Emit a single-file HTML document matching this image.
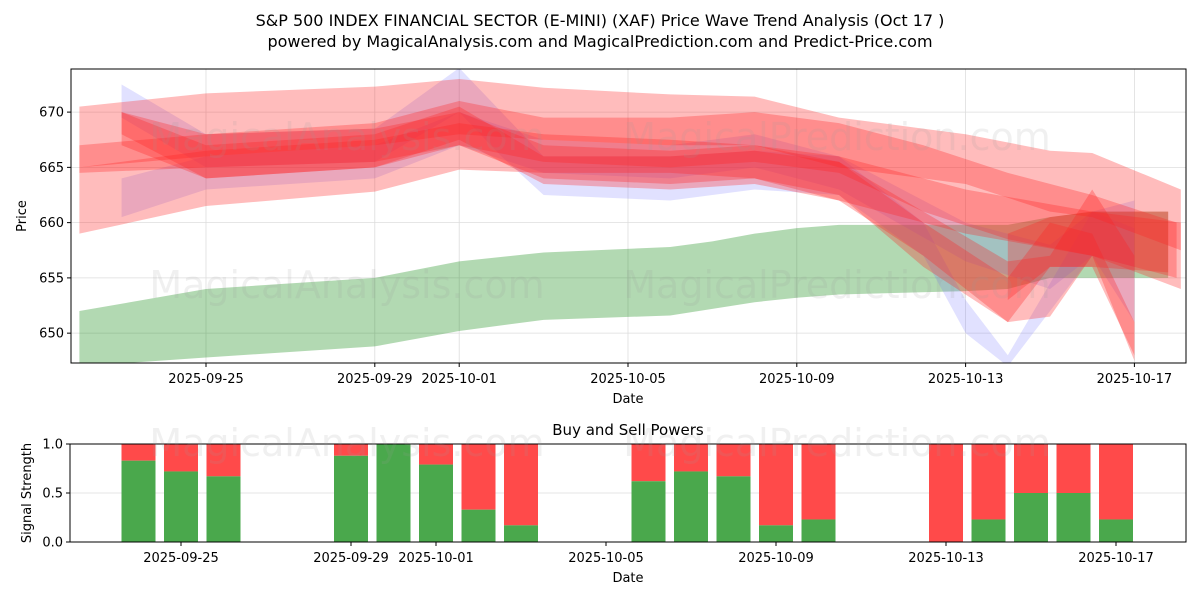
<!DOCTYPE html>
<html><head><meta charset="utf-8"><style>
html,body{margin:0;padding:0;background:#fff;}
svg{display:block;font-family:"DejaVu Sans","Liberation Sans",sans-serif;}
</style></head><body>
<svg id="c" width="1200" height="600" viewBox="0 0 1200 600">
<rect width="1200" height="600" fill="#fff"/>
<text x="600" y="26" text-anchor="middle" font-size="16" fill="#000">S&amp;P 500 INDEX FINANCIAL SECTOR (E-MINI) (XAF) Price Wave Trend Analysis (Oct 17 )</text>
<text x="600" y="47" text-anchor="middle" font-size="16" fill="#000">powered by MagicalAnalysis.com and MagicalPrediction.com and Predict-Price.com</text>
<g id="topg"></g>
<g id="botg"></g>
</svg>
<script>
const tickDays=[3,7,9,13,17,21,25];
const tickLabels=["2025-09-25","2025-09-29","2025-10-01","2025-10-05","2025-10-09","2025-10-13","2025-10-17"];
const priceTicks=[650,655,660,665,670];
const greenDays=[0,3,7,9,11,14,15,16,17,18,21,22,23,24,25.8];
const greenUpper=[652,654,655,656.5,657.3,657.8,658.3,659,659.5,659.8,659.8,659.8,660.5,661,661];
const greenLower=[647,647.8,648.8,650.2,651.2,651.6,652.2,652.8,653.2,653.5,653.8,654,655,655,655];
const redBands=[
 {days:[0,3,7,9,11,14,16,18,21,23,24,26.1],up:[670.5,671.7,672.3,673,672.2,671.6,671.4,669.5,668,666.5,666.3,663],lo:[665,666,667,668,667.5,667,667,665,663.5,661,660.5,657.5]},
 {days:[0,3,7,9,11,14,16,18,21,24,26.1],up:[665,666.5,667.5,669,668,667.5,667,666,663,661,660],lo:[659,661.5,662.8,664.8,664.5,664.5,664,662,659,657,654]},
 {days:[0,3,7,9,11,14,16,18,20,22,24,26],up:[667,668,669,671,669.5,669.5,670,669,667,664.5,662.5,660],lo:[664.5,665,665.5,667,665.5,665,665.5,664.5,661,658.5,657,655]},
 {days:[1,3,7,9,11,14,16,18,20,22,23,24,25],up:[670,667,668,670.5,666,666,666.5,665.5,661,656.5,657,663,657],lo:[667,664,665,667.5,663.5,663,663.5,662,657,651,651.5,657,647.5]},
 {days:[1,3,7,9,11,14,16,18,20,22,23,24,25],up:[670,668,668.5,670,667,666.5,667,665.5,660,655,660,659,651],lo:[668,664,665,667,664,663.5,664,662.5,656,651,656,656,648]},
 {days:[22,23,24,25.8],up:[659,660.5,661,661],lo:[653,656,656,655.5]}
];
const blueBands=[
 {days:[1,3,7,9,10,11,14,16,18,20,21,22,24,25],up:[672.5,668,668.5,674,670,666,666,666.5,666,660,653,648,661,662],lo:[669.5,665,665.5,670,666,662.5,662,663,662.5,657,650,647,657,651]},
 {days:[1,3,7,9,11,14,16,18,21,23,24,25],up:[664,666,667,670,667.5,667,668,666,660,658,661,659.5],lo:[660.5,663,664,667,664.5,664,665,663,656.5,654,657,656]}
];
const barDays=[2,3,4,7,8,9,10,11,14,15,16,17,18,21,22,23,24,25];
const buyPower=[0.83,0.72,0.67,0.88,1.0,0.79,0.33,0.17,0.62,0.72,0.67,0.17,0.23,0,0.23,0.5,0.5,0.23];
const powerTicks=[0,0.5,1];

{
const NS="http://www.w3.org/2000/svg";
function mk(p,t,a){const e=document.createElementNS(NS,t);for(const k in a)e.setAttribute(k,a[k]);p.appendChild(e);return e;}
const T={l:71,r:1186,t:69,b:363};
const tx=d=>79.4+d*42.2;
const ty=v=>363-(v-647.3)*(294/26.6);
const B={l:70,r:1186,t:444,b:542};
const bx=d=>53.5+d*42.5;
const by=v=>542-v*98;
const topG=document.getElementById('topg'),botG=document.getElementById('botg');
const svgEl=document.getElementById('c');

tickDays.forEach((d,i)=>{const x=tx(d);
 const g=mk(topG,'line',{x1:x,x2:x,y1:T.t,y2:T.b,stroke:'#ddd','stroke-width':0.8});
 
 
 mk(topG,'line',{x1:x,x2:x,y1:T.b,y2:T.b+4,stroke:'#000'});
 const t=mk(topG,'text',{x:x,y:T.b+20,'text-anchor':'middle','font-size':13});t.textContent=tickLabels[i];
 
 });
priceTicks.forEach(v=>{const y=ty(v);
 const g=mk(topG,'line',{x1:T.l,x2:T.r,y1:y,y2:y,stroke:'#ddd','stroke-width':0.8});
 
 
 mk(topG,'line',{x1:T.l-4,x2:T.l,y1:y,y2:y,stroke:'#000'});
 const t=mk(topG,'text',{x:T.l-7,y:y+4.5,'text-anchor':'end','font-size':13});t.textContent=v;
 
 });
[[347,150,'MagicalAnalysis.com'],[837,150,'MagicalPrediction.com'],[347,298,'MagicalAnalysis.com'],[837,298,'MagicalPrediction.com'],[347,456,'MagicalAnalysis.com'],[837,456,'MagicalPrediction.com']].forEach(w=>{
 const t=mk(svgEl,'text',{x:w[0],y:w[1],'text-anchor':'middle','font-size':38,fill:'#999','fill-opacity':0.15});t.textContent=w[2];
 
 });
const clip=mk(topG,'clipPath',{id:'tc'});mk(clip,'rect',{x:T.l,y:T.t,width:T.r-T.l,height:T.b-T.t});
const plot=mk(topG,'g',{'clip-path':'url(#tc)'});
function band(days,up,lo,fill,op,name){
 let pts=days.map((d,i)=>tx(d)+','+ty(up[i]));
 for(let i=days.length-1;i>=0;i--)pts.push(tx(days[i])+','+ty(lo[i]));
 const p=mk(plot,'polygon',{points:pts.join(' '),fill:fill,'fill-opacity':op});
 
 }
band(greenDays,greenUpper,greenLower,'#008000',0.3,'green-band');
blueBands.forEach(b=>band(b.days,b.up,b.lo,'#6a6aff',0.2,'blue-wave-band'));
redBands.forEach(b=>band(b.days,b.up,b.lo,'#ff2020',0.3,'red-wave-band'));
const fr=mk(topG,'rect',{x:T.l,y:T.t,width:T.r-T.l,height:T.b-T.t,fill:'none',stroke:'#000'});


let t=mk(topG,'text',{x:628,y:403,'text-anchor':'middle','font-size':13});t.textContent='Date';


t=mk(topG,'text',{x:26,y:216,'text-anchor':'middle','font-size':13,transform:'rotate(-90 26 216)'});t.textContent='Price';



t=mk(botG,'text',{x:628,y:435,'text-anchor':'middle','font-size':15});t.textContent='Buy and Sell Powers';


powerTicks.forEach(v=>{const y=by(v);
 const g=mk(botG,'line',{x1:B.l,x2:B.r,y1:y,y2:y,stroke:'#ddd','stroke-width':0.8});
 
 
 mk(botG,'line',{x1:B.l-4,x2:B.l,y1:y,y2:y,stroke:'#000'});
 const tt=mk(botG,'text',{x:B.l-7,y:y+4.5,'text-anchor':'end','font-size':13});tt.textContent=v.toFixed(1);
 
 });
barDays.forEach((d,i)=>{const x=bx(d)-17,w=34;
 const r=mk(botG,'rect',{x:x,y:by(1),width:w,height:by(buyPower[i])-by(1),fill:'#ff4a4a'});
 
 
 const g=mk(botG,'rect',{x:x,y:by(buyPower[i]),width:w,height:by(0)-by(buyPower[i]),fill:'#4aa84c'});
 
 });
tickDays.forEach((d,i)=>{const x=bx(d);
 mk(botG,'line',{x1:x,x2:x,y1:B.b,y2:B.b+4,stroke:'#000'});
 const tt=mk(botG,'text',{x:x,y:B.b+20,'text-anchor':'middle','font-size':13});tt.textContent=tickLabels[i];
 
 });
const fb=mk(botG,'rect',{x:B.l,y:B.t,width:B.r-B.l,height:B.b-B.t,fill:'none',stroke:'#000'});


t=mk(botG,'text',{x:628,y:582,'text-anchor':'middle','font-size':13});t.textContent='Date';


t=mk(botG,'text',{x:31,y:493,'text-anchor':'middle','font-size':13,transform:'rotate(-90 31 493)'});t.textContent='Signal Strength';


}
</script>
</body></html>
